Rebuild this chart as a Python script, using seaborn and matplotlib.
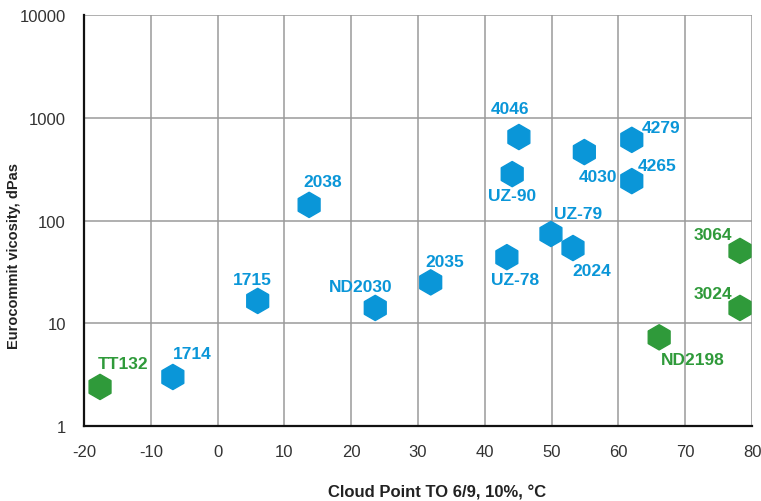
import pandas as pd
import matplotlib.pyplot as plt
import matplotlib.ticker as mticker
import seaborn as sns

# dados
produtos = ['TT132', '1714', '1715', '2038', 'ND2030', '2035', 'UZ-78', 'UZ-90',
            '4046', 'UZ-79', '2024', '4030', '4279', '4265', '3064', '3024', 'ND2198']
cloud_point = [-17.6, -6.7, 6.0, 13.7, 23.6, 31.9, 43.3, 44.1,
               45.1, 49.9, 53.2, 54.9, 62.0, 62.0, 78.2, 78.2, 66.1]
viscosidade = [2.4, 3.0, 16.5, 142, 14.1, 25, 44, 283,
               650, 74, 54, 464, 610, 242, 50.6, 14.1, 7.3]
grupo = ['verde', 'azul', 'azul', 'azul', 'azul', 'azul', 'azul', 'azul',
         'azul', 'azul', 'azul', 'azul', 'azul', 'azul', 'verde', 'verde', 'verde']
yticks = [1, 10, 100, 1000, 10000]
xticks = [-20, -10, 0, 10, 20, 30, 40, 50, 60, 70, 80]

df = pd.DataFrame({'Produto': produtos, 'CP': cloud_point,
                   'Visc': viscosidade, 'Grupo': grupo})

cores = {'azul': '#0a96d8', 'verde': '#2f9a3a'}

# deslocamento dos rótulos em pixels (dx, dy, alinhamento)
offsets = {
    'TT132': (23, 23, 'center'), '1714': (19, 23, 'center'),
    '1715': (-5, 21, 'center'), '2038': (14, 23, 'center'),
    'ND2030': (-15, 21, 'center'), '2035': (14, 21, 'center'),
    'UZ-78': (8, -22, 'center'), 'UZ-90': (0, -21, 'center'),
    '4046': (-9, 29, 'center'), 'UZ-79': (27, 20, 'center'),
    '2024': (19, -22, 'center'), '4030': (14, -24, 'center'),
    '4279': (10, 12, 'left'), '4265': (6, 16, 'left'),
    '3064': (-27, 16, 'center'), '3024': (-27, 14, 'center'),
    'ND2198': (34, -22, 'center'),
}

sns.set_style('white')
plt.rcParams['font.family'] = ['Liberation Sans', 'DejaVu Sans']
plt.rcParams['axes.unicode_minus'] = False

fig, ax = plt.subplots(figsize=(7.61, 5.02), dpi=100)
fig.subplots_adjust(left=0.1104, right=0.9882, top=0.968, bottom=0.1494)

sns.scatterplot(data=df, x='CP', y='Visc', hue='Grupo', palette=cores,
                marker='h', s=330, linewidth=1, edgecolor='face',
                legend=False, ax=ax, zorder=3)

for _, r in df.iterrows():
    dx, dy, ha = offsets[r['Produto']]
    ax.annotate(r['Produto'], (r['CP'], r['Visc']), xytext=(dx, dy),
                textcoords='offset pixels', ha=ha, va='center',
                fontsize=12.5, fontweight='bold', color=cores[r['Grupo']],
                zorder=4)

ax.set_yscale('log')
ax.set_xlim(-20, 80)
ax.set_ylim(1, 10000)
ax.set_xticks(xticks)
ax.set_yticks(yticks)
ax.yaxis.set_major_formatter(mticker.FuncFormatter(lambda v, p: f'{v:g}'))
ax.yaxis.set_minor_locator(mticker.NullLocator())

ax.grid(True, which='major', color='#9a9a9a', linewidth=1.1)
ax.set_axisbelow(True)
for s in ['top', 'right']:
    ax.spines[s].set_visible(False)
for s in ['left', 'bottom']:
    ax.spines[s].set_color('#111111')
    ax.spines[s].set_linewidth(1.6)

ax.tick_params(axis='both', length=7, width=1.1, color='#9a9a9a',
               labelsize=12, labelcolor='#333333', pad=6)

ax.set_xlabel('Cloud Point TO 6/9, 10%, °C', fontsize=12, fontweight='bold',
              color='#222222')
ax.set_ylabel('Eurocommit vicosity, dPas', fontsize=10.5, fontweight='bold',
              color='#222222')
ax.xaxis.set_label_coords(0.528, -0.141)
ax.yaxis.set_label_coords(-0.094, 0.416)

plt.savefig('out.png', dpi=100)
